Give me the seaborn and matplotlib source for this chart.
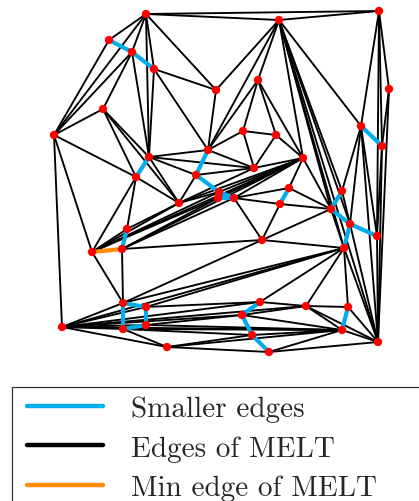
import matplotlib
matplotlib.use("Agg")
import matplotlib.pyplot as plt
from matplotlib.lines import Line2D
from matplotlib.patches import Rectangle
import pandas as pd
import seaborn as sns

sns.set_style("white")
plt.rcParams["axes.formatter.use_mathtext"] = True

# point set (x grows right, y grows down)
xs = [146, 109, 132, 154, 216, 103, 54, 149, 208, 136,
      196, 379, 279, 258, 389, 361, 382, 243, 276, 303,
      254, 179, 219, 218, 234, 127, 92, 122, 123, 146,
      123, 146, 62, 167, 289, 280, 342, 331, 350, 377,
      262, 344, 260, 242, 306, 348, 342, 252, 269, 378]
ys = [15, 41, 53, 70, 91, 110, 136, 158, 151, 178,
      176, 12, 21, 81, 90, 127, 147, 132, 136, 159,
      169, 204, 193, 199, 199, 230, 253, 250, 304, 308,
      330, 326, 328, 348, 189, 205, 192, 210, 225, 237,
      241, 249, 303, 316, 307, 308, 331, 336, 353, 343]

# triangulation edges (index pairs)
melt_edges = [
    (0, 1), (0, 11), (0, 12), (11, 12), (0, 6), (0, 2), (0, 7), (0, 3), (0, 4),
    (1, 6), (2, 6), (2, 5), (2, 7), (5, 6), (5, 7), (5, 9), (5, 21), (6, 9),
    (6, 26), (6, 32), (3, 4), (3, 7), (3, 8), (4, 8), (4, 12), (7, 8), (7, 21),
    (9, 21), (9, 25), (9, 26),
    (8, 12), (8, 13), (12, 13), (13, 17), (13, 18), (17, 18), (13, 19), (18, 19),
    (12, 19), (8, 17), (7, 20), (8, 20), (17, 20), (18, 20), (19, 20), (7, 10),
    (10, 20), (10, 21), (20, 21), (19, 21),
    (21, 22), (19, 22), (21, 26), (22, 26), (19, 26), (23, 26), (19, 23),
    (23, 27), (19, 27), (24, 27), (19, 24), (21, 25), (25, 26), (24, 34),
    (19, 34), (24, 35), (35, 40), (24, 40), (27, 40), (34, 37), (35, 37), (19, 37),
    (11, 14), (14, 49), (11, 16), (14, 16), (16, 49), (11, 39), (16, 39), (39, 49),
    (11, 15), (15, 39), (15, 49), (15, 38), (15, 36), (12, 15), (12, 36), (12, 38),
    (36, 38), (12, 49), (38, 49), (12, 41), (41, 49), (12, 37), (37, 41), (37, 40),
    (40, 41),
    (26, 28), (27, 28), (28, 32), (28, 40), (28, 41), (32, 41), (29, 41), (29, 32),
    (29, 42), (41, 42), (42, 44), (41, 44), (41, 45), (44, 45), (45, 49), (44, 49),
    (44, 46), (46, 49), (32, 42), (32, 44), (32, 43), (43, 44), (43, 46), (31, 32),
    (31, 43), (31, 46), (32, 46), (30, 32), (30, 46), (30, 47), (30, 33), (32, 33),
    (33, 47), (46, 47), (46, 48), (48, 49), (33, 48), (33, 46),
]

# pairs shorter than the minimum edge of the triangulation
short_edges = [
    (1, 2), (2, 3), (7, 9), (8, 10), (10, 22), (22, 23), (22, 24), (23, 24),
    (25, 27), (28, 29), (28, 30), (29, 31), (30, 31), (42, 43), (43, 47),
    (47, 48), (45, 46), (34, 35), (36, 37), (37, 38), (38, 39), (38, 41), (15, 16),
]

min_edge = [(26, 27)]

legend_labels = ["Smaller edges", "Edges of MELT", "Min edge of MELT"]
colors = {"black": "black", "blue": "#00aeef", "orange": "#ff8c00", "point": "red"}


def edge_frame(edges):
    rows = []
    for k, (i, j) in enumerate(edges):
        rows.append({"edge": k, "x": xs[i], "y": ys[i]})
        rows.append({"edge": k, "x": xs[j], "y": ys[j]})
    return pd.DataFrame(rows)


W, H = 419, 502
fig = plt.figure(figsize=(W / 100, H / 100), dpi=100)
ax = fig.add_axes([0, 0, 1, 1])

sns.lineplot(data=edge_frame(melt_edges), x="x", y="y", units="edge",
             estimator=None, sort=False, color=colors["black"], lw=1.35, ax=ax,
             legend=False)
sns.lineplot(data=edge_frame(short_edges), x="x", y="y", units="edge",
             estimator=None, sort=False, color=colors["blue"], lw=3.0, ax=ax,
             legend=False)
sns.lineplot(data=edge_frame(min_edge), x="x", y="y", units="edge",
             estimator=None, sort=False, color=colors["orange"], lw=3.0, ax=ax,
             legend=False)
sns.scatterplot(x=xs, y=ys, color=colors["point"], s=36, edgecolor="none",
                zorder=5, ax=ax)

ax.set_xlim(0, W)
ax.set_ylim(H, 0)
ax.axis("off")

# legend frame runs past the figure edge
fig.patches.append(Rectangle((12 / W, -0.05), 1.0, 1 - 388 / H + 0.05,
                             transform=fig.transFigure, fill=True,
                             facecolor="white", edgecolor="#333333", lw=0.9,
                             zorder=0))

handles = [Line2D([], [], color=colors["blue"], lw=3.2),
           Line2D([], [], color=colors["black"], lw=3.2),
           Line2D([], [], color=colors["orange"], lw=3.2)]
fig.legend(handles, legend_labels, loc="upper left",
           bbox_to_anchor=(18 / W, 1 - 388 / H), frameon=False,
           prop={"family": "cmr10", "size": 21}, handlelength=2.6,
           handletextpad=0.96, borderpad=0.3, labelspacing=0.44,
           borderaxespad=0)

fig.savefig("out.png", dpi=100)
